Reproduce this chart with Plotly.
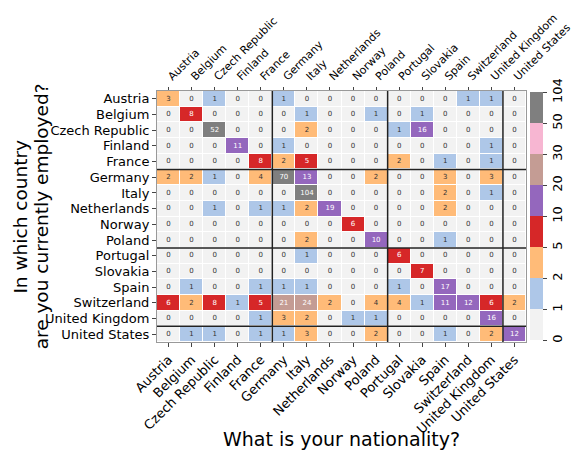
import plotly.graph_objects as go

countries = [
    "Austria", "Belgium", "Czech Republic", "Finland", "France", "Germany",
    "Italy", "Netherlands", "Norway", "Poland", "Portugal", "Slovakia",
    "Spain", "Switzerland", "United Kingdom", "United States",
]

# rows: country of employment, columns: nationality
counts = [
    [3, 0, 1, 0, 0, 1, 0, 0, 0, 0, 0, 0, 0, 1, 1, 0],
    [0, 8, 0, 0, 0, 0, 1, 0, 0, 1, 0, 1, 0, 0, 0, 0],
    [0, 0, 52, 0, 0, 0, 2, 0, 0, 0, 1, 16, 0, 0, 0, 0],
    [0, 0, 0, 11, 0, 1, 0, 0, 0, 0, 0, 0, 0, 0, 1, 0],
    [0, 0, 0, 0, 8, 2, 5, 0, 0, 0, 2, 0, 1, 0, 1, 0],
    [2, 2, 1, 0, 4, 70, 13, 0, 0, 2, 0, 0, 3, 0, 3, 0],
    [0, 0, 0, 0, 0, 0, 104, 0, 0, 0, 0, 0, 2, 0, 1, 0],
    [0, 0, 1, 0, 1, 1, 2, 19, 0, 0, 0, 0, 2, 0, 0, 0],
    [0, 0, 0, 0, 0, 0, 0, 0, 6, 0, 0, 0, 0, 0, 0, 0],
    [0, 0, 0, 0, 0, 0, 2, 0, 0, 10, 0, 0, 1, 0, 0, 0],
    [0, 0, 0, 0, 0, 0, 1, 0, 0, 0, 6, 0, 0, 0, 0, 0],
    [0, 0, 0, 0, 0, 0, 0, 0, 0, 0, 0, 7, 0, 0, 0, 0],
    [0, 1, 0, 0, 1, 1, 1, 0, 0, 0, 1, 0, 17, 0, 0, 0],
    [6, 2, 8, 1, 5, 21, 24, 2, 0, 4, 4, 1, 11, 12, 6, 2],
    [0, 0, 0, 0, 1, 3, 2, 0, 1, 1, 0, 0, 0, 0, 16, 0],
    [0, 1, 1, 0, 1, 1, 3, 0, 0, 2, 0, 0, 1, 0, 2, 12],
]

bounds = [0, 1, 2, 5, 10, 20, 30, 50, 104]
bin_colors = ["#f2f2f2", "#aec7e8", "#ffbb78", "#d62728",
              "#9467bd", "#c49c94", "#f7b6d2", "#7f7f7f"]
dark_bins = {3, 4, 5, 7}

y_title_lines = ["In which country", "are you currently employed?"]

def to_bin(v):
    for i in range(len(bounds) - 1):
        if v < bounds[i + 1]:
            return i
    return len(bounds) - 2

nb = len(bin_colors)
colorscale = []
for i, c in enumerate(bin_colors):
    colorscale.append([i / nb, c])
    colorscale.append([(i + 1) / nb, c])

z = [[to_bin(v) + 0.5 for v in row] for row in counts]

fig = go.Figure()
fig.add_trace(go.Heatmap(
    z=z, x=countries, y=countries,
    zmin=0, zmax=nb,
    colorscale=colorscale,
    xgap=1, ygap=1,
    hoverinfo="skip",
    colorbar=dict(
        tickvals=list(range(len(bounds))),
        ticktext=[str(b) for b in bounds],
        tickangle=-90,
        ticks="outside", ticklen=4,
        tickfont=dict(size=13, color="black"),
        thickness=13, len=0.99, x=1.011, xanchor="left", xpad=0, ypad=0,
        outlinewidth=0,
    ),
))

tx, ty, tt, tc = [], [], [], []
for r, row in enumerate(counts):
    for c, v in enumerate(row):
        tx.append(countries[c])
        ty.append(countries[r])
        tt.append(str(v))
        tc.append("white" if to_bin(v) in dark_bins else "#333333")
fig.add_trace(go.Scatter(
    x=tx, y=ty, text=tt, mode="text",
    textfont=dict(size=7, color=tc, family="DejaVu Sans"),
    hoverinfo="skip", showlegend=False,
))
# dummy trace to show the top axis
fig.add_trace(go.Scatter(
    x=countries, y=countries, xaxis="x2", mode="markers",
    marker=dict(opacity=0), hoverinfo="skip", showlegend=False,
))

# group separators
for b in [4.5, 9.5, 14.5]:
    fig.add_shape(type="line", x0=b, x1=b, y0=-0.5, y1=15.5,
                  line=dict(color="#222222", width=1.5))
    fig.add_shape(type="line", y0=b, y1=b, x0=-0.5, x1=15.5,
                  line=dict(color="#222222", width=1.5))

fig.add_annotation(
    text="What is your nationality?", xref="paper", yref="paper",
    x=0.5, y=-0.386, xanchor="center", yanchor="middle", showarrow=False,
    font=dict(size=19, color="black"),
)
# y title as two separate lines so the spacing can be set
for line, xpos in zip(y_title_lines, [-0.371, -0.312]):
    fig.add_annotation(
        text=line, xref="paper", yref="paper",
        x=xpos, y=0.5, xanchor="center", yanchor="middle", showarrow=False,
        textangle=-90, font=dict(size=18.5, color="black"),
    )

tick_font = dict(size=13, color="black")
# page body adds an 8px margin, so the figure is 8px smaller
fig.update_layout(
    width=574, height=447,
    margin=dict(l=149, r=56, t=83, b=113, autoexpand=False),
    plot_bgcolor="white", paper_bgcolor="white",
    font=dict(family="DejaVu Sans"),
    showlegend=False,
    xaxis=dict(
        tickmode="array", tickvals=countries,
        tickangle=-45, tickfont=tick_font, ticks="outside", ticklen=4,
        showgrid=False, showline=True, linecolor="#999999", mirror=True,
        range=[-0.5, 15.5], automargin=False,
    ),
    xaxis2=dict(
        overlaying="x", side="top", matches="x",
        tickmode="array", tickvals=countries,
        tickangle=-45, tickfont=dict(size=11, color="black"), ticks="outside", ticklen=3,
        showgrid=False, range=[-0.5, 15.5], automargin=False,
    ),
    yaxis=dict(
        tickmode="array", tickvals=countries,
        range=[15.5, -0.5], tickfont=tick_font, ticks="outside", ticklen=4,
        showgrid=False, showline=True, linecolor="#999999", mirror=True,
        automargin=False,
    ),
)

fig.write_html("out.html")
